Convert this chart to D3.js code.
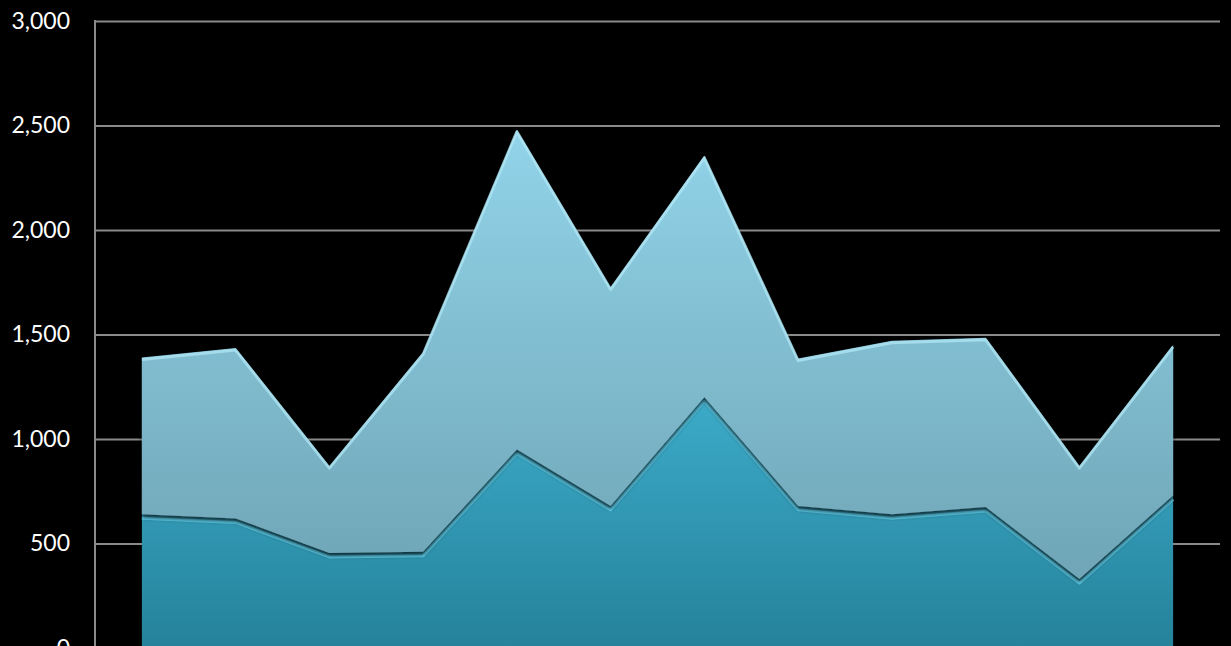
<!DOCTYPE html>
<html>
<head>
<meta charset="utf-8">
<script src="https://cdn.jsdelivr.net/npm/d3@7"></script>
<style>
  html, body { margin: 0; padding: 0; background: #000; overflow: hidden; }
  svg { display: block; }
</style>
</head>
<body>
<svg id="chart"></svg>
<script>
// data
const categories = ['1', '2', '3', '4', '5', '6', '7', '8', '9', '10', '11', '12']
const lowerValues = [640, 620, 455, 460, 950, 680, 1200, 680, 640, 675, 330, 730]
const upperValues = [750, 815, 415, 955, 1530, 1045, 1155, 705, 830, 810, 540, 720]
const tickValues = [0, 500, 1000, 1500, 2000, 2500, 3000]

const svgWidth = 1231
const svgHeight = 646
const margin = { top: 21, left: 95, right: 11 }
const plotBottom = 648

const svg = d3.select('#chart')
  .attr('width', svgWidth)
  .attr('height', svgHeight)

const rows = categories.map((c, i) => ({ category: c, lower: lowerValues[i], upper: upperValues[i] }))
const stacked = d3.stack().keys(['lower', 'upper'])(rows)

const x = d3.scaleBand()
  .domain(categories)
  .range([margin.left, svgWidth - margin.right])

const y = d3.scaleLinear()
  .domain([0, 3000])
  .range([plotBottom, margin.top])

const cx = d => x(d.data.category) + x.bandwidth() / 2

// defs: gradients + shadow
const defs = svg.append('defs')

function gradient(id, top, bottom, y1, y2) {
  const g = defs.append('linearGradient')
    .attr('id', id)
    .attr('gradientUnits', 'userSpaceOnUse')
    .attr('x1', 0).attr('x2', 0)
    .attr('y1', y1).attr('y2', y2)
  g.append('stop').attr('offset', '0%').attr('stop-color', top)
  g.append('stop').attr('offset', '100%').attr('stop-color', bottom)
}
gradient('gradUpper', '#92d4ea', '#6a9eae', y(2500), y(0))
gradient('gradLower', '#3cabc9', '#25829a', y(1200), y(0))

const shadow = defs.append('filter')
  .attr('id', 'shadow')
  .attr('x', '-5%').attr('y', '-5%')
  .attr('width', '110%').attr('height', '115%')
shadow.append('feGaussianBlur').attr('in', 'SourceAlpha').attr('stdDeviation', 2)
shadow.append('feOffset').attr('dx', 0).attr('dy', 3).attr('result', 'off')
shadow.append('feComponentTransfer').append('feFuncA').attr('type', 'linear').attr('slope', 0.7)
const merge = shadow.append('feMerge')
merge.append('feMergeNode')
merge.append('feMergeNode').attr('in', 'SourceGraphic')

// grid + axis
const yAxis = d3.axisLeft(y)
  .tickValues(tickValues)
  .tickSize(-(svgWidth - margin.right - margin.left))
  .tickPadding(25)
  .tickFormat(d3.format(','))

svg.append('g')
  .attr('class', 'y-axis')
  .attr('transform', `translate(${margin.left},0)`)
  .call(yAxis)
  .call(g => g.select('.domain').remove())
  .call(g => g.selectAll('.tick line')
    .attr('stroke', '#8a8a8a')
    .attr('stroke-width', 2))
  .call(g => g.selectAll('.tick text')
    .attr('fill', '#fff')
    .style('font-family', 'Lato, "Open Sans", sans-serif')
    .style('font-size', '23px'))

svg.append('line')
  .attr('x1', margin.left).attr('x2', margin.left)
  .attr('y1', y(3000) - 1).attr('y2', svgHeight)
  .attr('stroke', '#8a8a8a')
  .attr('stroke-width', 2)

// areas
const area = d3.area()
  .x(cx)
  .y0(d => y(d[0]))
  .y1(d => y(d[1]))

const topLine = d3.line()
  .x(cx)
  .y(d => y(d[1]))

const fills = ['url(#gradLower)', 'url(#gradUpper)']
const highlights = ['#62d2ee', '#b5e9f7']

stacked.forEach((s, i) => {
  svg.append('path')
    .datum(s)
    .attr('d', area)
    .attr('fill', fills[i])
    .attr('filter', i === 1 ? 'url(#shadow)' : null)

  // bevel highlight along the top edge
  svg.append('path')
    .datum(s)
    .attr('d', topLine)
    .attr('fill', 'none')
    .attr('stroke', highlights[i])
    .attr('stroke-width', 3)
    .attr('stroke-linejoin', 'round')
    .attr('opacity', i === 0 ? 0.9 : 0.7)
    .attr('transform', `translate(0,${i === 0 ? 4 : 2})`)
})
</script>
</body>
</html>
